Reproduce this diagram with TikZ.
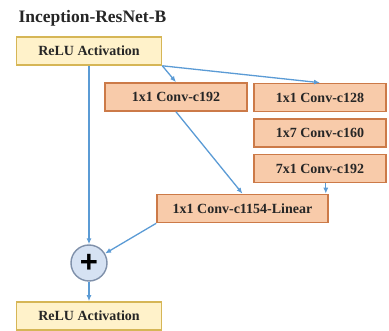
\documentclass[tikz,border=0pt]{standalone}
\usepackage{fontspec}
\setmainfont{Liberation Serif}
\setsansfont{Liberation Sans}
\usetikzlibrary{positioning, arrows.meta}
\definecolor{relufill}{HTML}{FFF2CA}
\definecolor{relustroke}{HTML}{D6B656}
\definecolor{convfill}{HTML}{F8CBAA}
\definecolor{convstroke}{HTML}{CC7A48}
\definecolor{addfill}{HTML}{D6E2F3}
\definecolor{addstroke}{HTML}{7F90AA}
\definecolor{link}{HTML}{5B9BD5}

\begin{document}
\begin{tikzpicture}[
  x=1pt, y=-1pt,
  every node/.style={font=\rmfamily\fontsize{14}{16}\selectfont\bfseries, text=black!85},
  >={Latex[length=6pt, width=5pt]},
  relu/.style={
    draw=relustroke, line width=1.6pt, fill=relufill,
    minimum width=145pt, minimum height=28pt, inner sep=0pt
  },
  conv/.style={
    draw=convstroke, line width=1.6pt, fill=convfill,
    minimum height=28pt, inner sep=0pt
  },
  add/.style={
    circle, draw=addstroke, line width=1.4pt, fill=addfill,
    minimum size=36pt, inner sep=0pt
  },
  arrow/.style={->, line width=1.3pt, draw=link}
]
\useasboundingbox (0,0) rectangle (389,331);

\node[anchor=base west, font=\rmfamily\fontsize{17.5}{20}\selectfont\bfseries] (title) at (15,23) {Inception-ResNet-B};

\node[relu] (relu1) at (89,51) {ReLU Activation};

\node[conv, minimum width=142pt] (c192) at (176,97) {1x1 Conv-c192};
\node[conv, minimum width=132pt] (c128) at (320,97.5) {1x1 Conv-c128};
\node[conv, minimum width=132pt, below=6pt of c128] (c160) {1x7 Conv-c160};
\node[conv, minimum width=132pt, below=6pt of c160] (c192b) {7x1 Conv-c192};

\node[conv, minimum width=171pt] (linear) at (242.5,208.5) {1x1 Conv-c1154-Linear};

\node[add, font=\sffamily\fontsize{31}{31}\selectfont\bfseries, text=black] (plus) at (89,263) {+};

\node[relu] (relu2) at (89,316) {ReLU Activation};

\coordinate (tap) at ([xshift=-3pt]linear.north east);

\draw[arrow] (relu1) -- (plus);
\draw[arrow] (relu1.south east) -- (c192.north);
\draw[arrow] (relu1.south east) -- (c128.north);
\draw[arrow] (c192.south) -- (linear.north);
\draw[arrow] (tap |- c192b.south) -- (tap);
\draw[arrow] (linear.south west) -- (plus);
\draw[arrow] (plus) -- (relu2);

\end{tikzpicture}
\end{document}
